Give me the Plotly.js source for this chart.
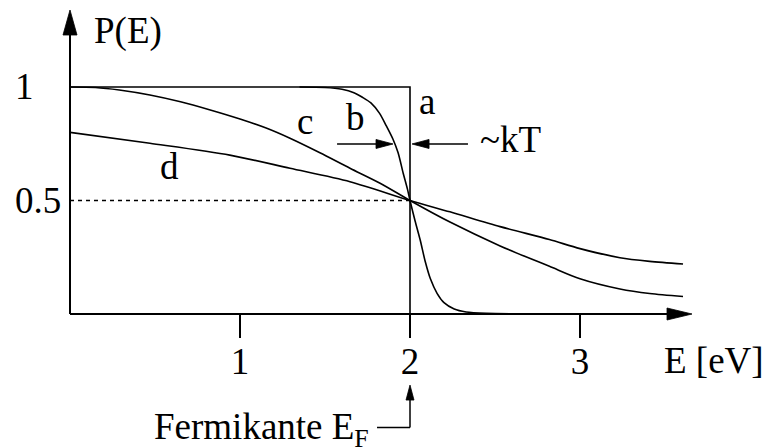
<!DOCTYPE html>
<html>
<head>
<meta charset="utf-8">
<script src="https://cdn.plot.ly/plotly-3.0.1.min.js"></script>
<style>
  html, body { margin: 0; padding: 0; background: #fff; }
  #chart { width: 763px; height: 448px; }
</style>
</head>
<body>
<div id="chart"></div>
<script>
// Fermi-Dirac occupation P(E) for several temperatures, Fermi edge at 2 eV

// a: T = 0 step
const stepE = [0, 2, 2];
const stepP = [1, 1, 0];

// b: low temperature
const bE = [1.35, 1.5, 1.6, 1.67, 1.72, 1.77, 1.82, 1.86, 1.9, 1.93, 1.96, 1.985, 2.0,
            2.03, 2.06, 2.09, 2.12, 2.16, 2.2, 2.26, 2.33, 2.45, 2.62];
const bP = [1.0, 0.998, 0.99, 0.975, 0.955, 0.93, 0.885, 0.83, 0.77, 0.71, 0.62, 0.55, 0.5,
            0.41, 0.326, 0.23, 0.155, 0.09, 0.05, 0.022, 0.009, 0.003, 0.001];

// c: higher temperature
const cE = [0, 0.15, 0.29, 0.47, 0.65, 0.82, 1.0, 1.15, 1.294, 1.47, 1.647, 1.824, 2.0,
            2.235, 2.53, 2.82, 3.0, 3.235, 3.41, 3.606];
const cP = [1.0, 0.998, 0.987, 0.965, 0.935, 0.9, 0.859, 0.82, 0.774, 0.71, 0.642, 0.576, 0.5,
            0.405, 0.3, 0.21, 0.155, 0.11, 0.09, 0.077];

// d: highest temperature
const dE = [0, 0.47, 0.94, 1.294, 1.647, 2.0, 2.235, 2.53, 2.82, 3.0, 3.235, 3.41, 3.606];
const dP = [0.80, 0.752, 0.70, 0.642, 0.583, 0.5, 0.45, 0.385, 0.328, 0.288, 0.248, 0.232, 0.22];

// half-occupation guide
const halfE = [0, 2];
const halfP = [0.5, 0.5];

// axis ticks
const xTicks = [1, 2, 3];
const xTickText = ['1', '2', '3'];
const yTicks = [0.5, 1];
const yTickText = ['0.5', '1'];

// curve labels
const curveNames = ['a', 'b', 'c', 'd'];

const W = 763, H = 448;
const M = { l: 70, r: 13, t: 5, b: 134 };
const xRange = [0, 4];
const yRange = [0, 309 / 227];
const sx = (W - M.l - M.r) / (xRange[1] - xRange[0]);   // px per eV
const sy = (H - M.t - M.b) / (yRange[1] - yRange[0]);   // px per unit P

// data -> paper fractions, so decorations outside the plot area are not clipped
const PX = x => (x - xRange[0]) / (xRange[1] - xRange[0]);
const PY = y => (y - yRange[0]) / (yRange[1] - yRange[0]);

const FONT = 'Liberation Serif, Times New Roman, serif';
const FS = 37;
const ink = '#000';

function lineTrace(x, y, opts) {
  return Object.assign({
    x: x, y: y, type: 'scatter', mode: 'lines', hoverinfo: 'skip', showlegend: false,
    line: { color: ink, width: 1.6 }
  }, opts || {});
}

const traces = [
  lineTrace(halfE, halfP, { name: 'P = 0.5', line: { color: ink, width: 1.3, dash: '4px,4px' } }),
  lineTrace(stepE, stepP, { name: curveNames[0] }),
  lineTrace(bE, bP, { name: curveNames[1], line: { color: ink, width: 1.6, shape: 'spline', smoothing: 0.8 } }),
  lineTrace(cE, cP, { name: curveNames[2], line: { color: ink, width: 1.6, shape: 'spline', smoothing: 0.8 } }),
  lineTrace(dE, dP, { name: curveNames[3], line: { color: ink, width: 1.6, shape: 'spline', smoothing: 0.8 } })
];

// filled triangular arrow head; tip in data units, sizes in px
function head(tx, ty, dir, lenPx, halfPx) {
  let pts;
  if (dir === 'right' || dir === 'left') {
    const bx = tx + (dir === 'right' ? -1 : 1) * lenPx / sx, h = halfPx / sy;
    pts = [[tx, ty], [bx, ty + h], [bx, ty - h]];
  } else {
    const by = ty - lenPx / sy, w = halfPx / sx;
    pts = [[tx, ty], [tx - w, by], [tx + w, by]];
  }
  const p = pts.map((q, i) => (i ? 'L' : 'M') + PX(q[0]) + ',' + PY(q[1])).join(' ') + ' Z';
  return { type: 'path', xref: 'paper', yref: 'paper', path: p, fillcolor: ink, line: { color: ink, width: 0.8 } };
}
function seg(x0, y0, x1, y1, w) {
  return { type: 'line', xref: 'paper', yref: 'paper',
           x0: PX(x0), y0: PY(y0), x1: PX(x1), y1: PY(y1), line: { color: ink, width: w || 1.5 } };
}

const xTip = (692 - M.l) / sx;
const yTip = yRange[1] - (10 - M.t) / sy;
const shapes = [
  // axes with arrows
  seg(0, 0, xTip - 24 / sx, 0, 2),
  head(xTip, 0, 'right', 25, 6),
  seg(0, 0, 0, yTip - 24 / sy, 2),
  head(0, yTip, 'up', 25, 7),
  // width of the smeared edge, ~kT
  seg(1.571, 0.749, 1.9 - 16 / sx, 0.749, 1.5),
  head(1.9, 0.749, 'right', 17, 4.5),
  seg(2.341, 0.749, 2.012 + 16 / sx, 0.749, 1.5),
  head(2.012, 0.749, 'left', 17, 4.5),
  // pointer to the Fermi edge
  seg(1.806, -0.5, 2, -0.5, 1.5),
  seg(2, -0.5, 2, -0.313 - 14 / sy, 1.5),
  head(2, -0.313, 'up', 15, 4)
];

function label(text, x, y, xanchor) {
  return { text: text, x: PX(x), y: PY(y), xref: 'paper', yref: 'paper', showarrow: false,
           xanchor: xanchor || 'center', yanchor: 'middle',
           font: { family: FONT, size: FS, color: ink } };
}

const annotations = [
  label(curveNames[0], 2.1, 0.934),
  label(curveNames[1], 1.682, 0.866),
  label(curveNames[2], 1.382, 0.850),
  label(curveNames[3], 0.588, 0.648),
  label('~kT', 2.4, 0.767, 'left'),
  label('P(E)', 0.129, 1.247, 'left'),
  label('E [eV]', 3.482, -0.203, 'left'),
  label('Fermikante E<sub>F</sub>', 0.482, -0.51, 'left')
].concat(yTicks.map((v, i) => label(yTickText[i], -0.335, v, 'left')));

const layout = {
  width: W, height: H,
  margin: M,
  paper_bgcolor: '#fff', plot_bgcolor: '#fff',
  showlegend: false,
  xaxis: {
    range: xRange, showgrid: false, zeroline: false, showline: false,
    tickmode: 'array', tickvals: xTicks, ticktext: xTickText,
    ticks: 'outside', ticklen: 23, tickwidth: 1.5, tickcolor: ink, ticklabelstandoff: -8,
    tickfont: { family: FONT, size: FS, color: ink }, fixedrange: true
  },
  yaxis: {
    range: yRange, showgrid: false, zeroline: false, showline: false,
    showticklabels: false, ticks: '', fixedrange: true
  },
  shapes: shapes,
  annotations: annotations
};

Plotly.newPlot('chart', traces, layout, { staticPlot: true, displayModeBar: false });
</script>
</body>
</html>
